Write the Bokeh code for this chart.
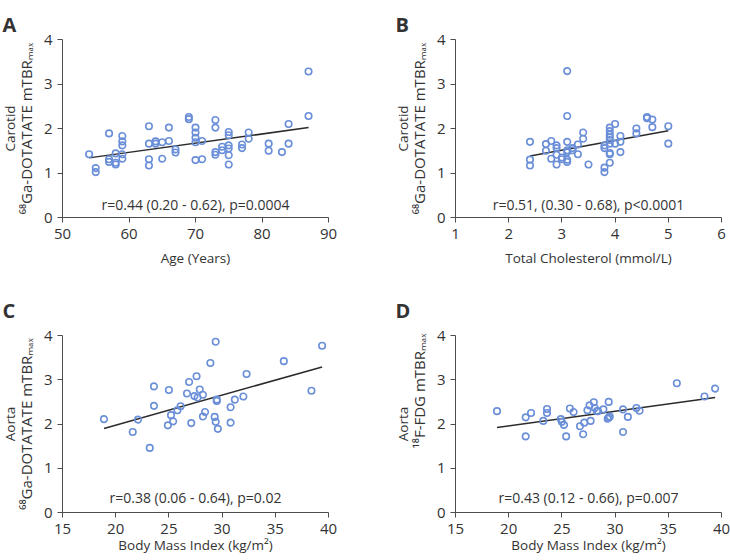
from bokeh.plotting import figure
from bokeh.models import Range1d, FixedTicker, Label, Title
from bokeh.layouts import column, row
from bokeh.embed import file_html
from bokeh.resources import INLINE

# ---------------- data ----------------
# Panel A: Carotid 68Ga-DOTATATE vs age
age = [54, 55, 55, 57, 57, 57, 58, 58, 58, 59, 59, 59, 59, 59, 63, 63, 63, 63, 64, 64,
       65, 65, 66, 66, 67, 67, 69, 69, 70, 70, 70, 70, 70, 71, 71, 73, 73, 73, 73, 74,
       74, 75, 75, 75, 75, 75, 75, 77, 77, 78, 78, 81, 81, 83, 84, 84, 87, 87]
carotid_age = [1.42, 1.11, 1.02, 1.89, 1.31, 1.25, 1.44, 1.23, 1.19, 1.83, 1.71, 1.62, 1.42, 1.32,
               2.05, 1.66, 1.31, 1.17, 1.71, 1.66, 1.69, 1.32, 2.02, 1.72, 1.53, 1.46, 2.26, 2.21,
               2.02, 1.91, 1.79, 1.69, 1.29, 1.72, 1.31, 2.19, 2.02, 1.47, 1.41, 1.59, 1.51, 1.92,
               1.85, 1.62, 1.55, 1.40, 1.19, 1.64, 1.56, 1.91, 1.77, 1.66, 1.50, 1.47, 2.10, 1.66,
               3.28, 2.28]
fit_a_x = [54, 87]
fit_a_y = [1.34, 2.02]

# Panel B: Carotid 68Ga-DOTATATE vs total cholesterol
chol = [2.4, 2.4, 2.4, 2.7, 2.7, 2.8, 2.8, 2.9, 2.9, 2.9, 2.9, 3.0, 3.0, 3.1, 3.1, 3.1, 3.1, 3.1,
        3.1, 3.1, 3.2, 3.2, 3.3, 3.3, 3.4, 3.4, 3.5, 3.8, 3.8, 3.8, 3.8, 3.9, 3.9, 3.9, 3.9, 3.9,
        3.9, 3.9, 3.9, 3.9, 4.0, 4.0, 4.1, 4.1, 4.1, 4.4, 4.4, 4.6, 4.6, 4.7, 4.7, 5.0, 5.0]
carotid_chol = [1.70, 1.30, 1.17, 1.65, 1.50, 1.72, 1.32, 1.62, 1.56, 1.41, 1.19, 1.35, 1.31, 3.29,
                2.28, 1.70, 1.51, 1.47, 1.30, 1.25, 1.56, 1.51, 1.64, 1.42, 1.91, 1.77, 1.19, 1.62,
                1.56, 1.12, 1.02, 2.02, 1.94, 1.86, 1.80, 1.74, 1.66, 1.45, 1.42, 1.23, 2.10, 1.66,
                1.83, 1.70, 1.47, 2.00, 1.89, 2.26, 2.23, 2.20, 2.03, 2.05, 1.66]
fit_b_x = [2.4, 5.0]
fit_b_y = [1.38, 1.95]

# Panel C: Aorta 68Ga-DOTATATE vs BMI
bmi_c = [18.9, 21.6, 22.1, 23.2, 23.6, 23.6, 24.9, 25.0, 25.2, 25.4, 25.8, 26.1, 26.7, 26.9, 27.1,
         27.4, 27.6, 27.7, 27.9, 28.2, 28.2, 28.4, 28.9, 29.3, 29.4, 29.4, 29.5, 29.5, 29.6, 30.8,
         30.8, 31.2, 32.0, 32.3, 35.8, 38.4, 39.4]
aorta_dotatate = [2.11, 1.82, 2.10, 1.46, 2.85, 2.41, 1.97, 2.77, 2.20, 2.06, 2.31, 2.40, 2.69, 2.95,
                  2.02, 2.63, 3.08, 2.60, 2.78, 2.66, 2.17, 2.27, 3.38, 2.16, 3.86, 2.05, 2.55, 2.52,
                  1.89, 2.03, 2.38, 2.55, 2.62, 3.13, 3.42, 2.75, 3.77]
fit_c_x = [18.9, 39.4]
fit_c_y = [1.90, 3.29]

# Panel D: Aorta 18F-FDG vs BMI
bmi_d = [18.9, 21.6, 21.6, 22.1, 23.25, 23.6, 23.6, 24.9, 25.0, 25.2, 25.4, 25.75, 26.1, 26.7, 27.0,
         27.1, 27.4, 27.6, 27.7, 28.0, 28.1, 28.3, 28.4, 28.9, 29.4, 29.3, 29.4, 29.5, 30.75, 30.75,
         31.2, 32.0, 32.3, 35.8, 38.4, 39.4]
aorta_fdg = [2.29, 2.15, 1.72, 2.25, 2.07, 2.34, 2.25, 2.11, 2.05, 1.98, 1.72, 2.35, 2.27, 1.95, 1.77,
             2.03, 2.31, 2.42, 2.07, 2.49, 2.36, 2.29, 2.29, 2.33, 2.50, 2.12, 2.14, 2.17, 2.33, 1.82,
             2.16, 2.36, 2.30, 2.92, 2.62, 2.80]
fit_d_x = [18.9, 39.4]
fit_d_y = [1.92, 2.60]

age_ticks = [50, 60, 70, 80, 90]
chol_ticks = [1, 2, 3, 4, 5, 6]
bmi_ticks = [15, 20, 25, 30, 35, 40]
y_ticks = [0, 1, 2, 3, 4]

DOTATATE_LABEL = "\u2076\u2078Ga-DOTATATE mTBR\u2098\u2090\u2093"
FDG_LABEL = "\u00b9\u2078F-FDG mTBR\u2098\u2090\u2093"

# ---------------- style ----------------
FONT = "Open Sans"
TXT = "#333333"
AX = "#4d4d4d"
BLUE = "#6a8fd8"


def panel(W, H, bl, br, bt, bb, xr, xticks, xs, ys, fx, fy,
          letter, letter_standoff, line1, line2, line2_offset, xlabel, xlab_standoff,
          stat, stat_dy):
    yr = (0, 4)
    p = figure(width=W, height=H, x_range=Range1d(*xr), y_range=Range1d(*yr),
               output_backend="svg", toolbar_location=None,
               min_border_left=bl, min_border_right=br, min_border_top=bt, min_border_bottom=bb)
    p.outline_line_color = None
    p.grid.visible = False
    p.background_fill_color = "white"
    p.border_fill_color = "white"
    p.xaxis.ticker = FixedTicker(ticks=xticks)
    p.yaxis.ticker = FixedTicker(ticks=y_ticks)
    for ax in (p.xaxis[0], p.yaxis[0]):
        ax.axis_line_color = AX
        ax.axis_line_width = 1
        ax.major_tick_line_color = AX
        ax.major_tick_out = 5
        ax.major_tick_in = 0
        ax.minor_tick_out = 0
        ax.minor_tick_in = 0
        ax.major_label_text_font = FONT
        ax.major_label_text_font_size = "15px"
        ax.major_label_text_color = TXT
    p.xaxis[0].major_label_standoff = 6
    p.yaxis[0].major_label_standoff = 5

    xa = p.xaxis[0]
    xa.axis_label = xlabel
    xa.axis_label_text_font = FONT
    xa.axis_label_text_font_size = "13.5px"
    xa.axis_label_text_font_style = "normal"
    xa.axis_label_text_color = TXT
    xa.axis_label_standoff = xlab_standoff

    # panel letter
    p.title.text = letter
    p.title.align = "left"
    p.title.vertical_align = "top"
    p.title.offset = -60
    p.title.standoff = letter_standoff
    p.title.text_font = FONT
    p.title.text_font_size = "20px"
    p.title.text_font_style = "bold"
    p.title.text_color = TXT

    # two-line y label (inner line first)
    if line2_offset is None:
        t2 = Title(text=line2, align="center")
    else:
        t2 = Title(text=line2, align="left", offset=line2_offset)
    t2.text_font = FONT
    t2.text_font_size = "15px"
    t2.text_font_style = "normal"
    t2.text_color = TXT
    t2.standoff = 9
    p.add_layout(t2, "left")
    t1 = Title(text=line1, align="center", text_font=FONT, text_font_size="13.5px",
               text_font_style="normal", text_color=TXT, standoff=-18)
    p.add_layout(t1, "left")

    p.line(fx, fy, line_color="#2b2b2b", line_width=1.5)
    p.scatter(xs, ys, marker="circle", size=6.5, fill_alpha=0,
              line_color=BLUE, line_width=1.6)

    fh = H - bt - bb
    p.add_layout(Label(x=(xr[0] + xr[1]) / 2, y=stat_dy / fh * (yr[1] - yr[0]), text=stat,
                       text_font=FONT, text_font_size="14px", text_color=TXT,
                       text_align="center", text_baseline="alphabetic"))
    return p


pA = panel(365, 280, 62, 37, 39, 63, (50, 90), age_ticks, age, carotid_age, fit_a_x, fit_a_y,
           "A", 0, "Carotid", DOTATATE_LABEL, None, "Age (Years)", 7,
           "r=0.44 (0.20 - 0.62), p=0.0004", 13)
pB = panel(365, 280, 90, 9, 39, 63, (1, 6), chol_ticks, chol, carotid_chol, fit_b_x, fit_b_y,
           "B", 0, "Carotid", DOTATATE_LABEL, None, "Total Cholesterol (mmol/L)", 7,
           "r=0.51, (0.30 - 0.68), p<0.0001", 13)
pC = panel(365, 280, 62, 37, 55, 48, (15, 40), bmi_ticks, bmi_c, aorta_dotatate, fit_c_x, fit_c_y,
           "C", 20, "Aorta", DOTATATE_LABEL, None, "Body Mass Index (kg/m\u00b2)", -1,
           "r=0.38 (0.06 - 0.64), p=0.02", 15)
pD = panel(365, 280, 90, 9, 55, 48, (15, 40), bmi_ticks, bmi_d, aorta_fdg, fit_d_x, fit_d_y,
           "D", 20, "Aorta", FDG_LABEL, 64, "Body Mass Index (kg/m\u00b2)", -1,
           "r=0.43 (0.12 - 0.66), p=0.007", 15)

layout = column(row(pA, pB), row(pC, pD))
open("out.html", "w").write(file_html(layout, INLINE))
